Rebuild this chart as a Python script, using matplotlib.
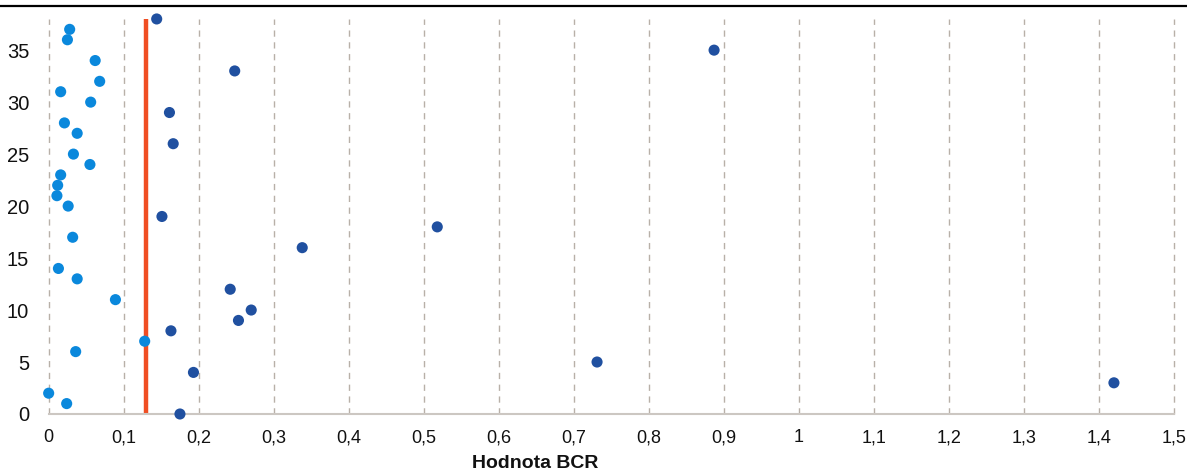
import matplotlib.pyplot as plt
from matplotlib.lines import Line2D
from matplotlib.ticker import FuncFormatter

plt.rcParams['font.family'] = ['Liberation Sans', 'DejaVu Sans']

# project index (y) and its BCR value (x)
project_ids = [0, 1, 2, 3, 4, 5, 6, 7, 8, 9, 10, 11, 12, 13, 14, 16, 17, 18, 19,
               20, 21, 22, 23, 24, 25, 26, 27, 28, 29, 30, 31, 32, 33, 34, 35, 36, 37, 38]
bcr_values = [0.175, 0.024, 0.0, 1.42, 0.193, 0.731, 0.036, 0.128, 0.163, 0.253,
              0.270, 0.089, 0.242, 0.038, 0.013, 0.338, 0.032, 0.518, 0.151,
              0.026, 0.011, 0.012, 0.016, 0.055, 0.033, 0.166, 0.038, 0.021, 0.161,
              0.056, 0.016, 0.068, 0.248, 0.062, 0.887, 0.025, 0.028, 0.144]
threshold = 0.13

x_ticks = [i / 10 for i in range(16)]
y_ticks = [0, 5, 10, 15, 20, 25, 30, 35]

light_blue = '#0A88DC'
dark_blue = '#2050A0'
colors = [light_blue if v < threshold else dark_blue for v in bcr_values]

fig = plt.figure(figsize=(11.87, 4.74), dpi=100)
ax = fig.add_axes([0.041, 0.1266, 0.948, 0.8334])

ax.plot([threshold, threshold], [0, 38], color='#F04E23', lw=3.2, zorder=2,
        solid_capstyle='butt', clip_on=False)
ax.scatter(bcr_values, project_ids, s=64, c=colors, linewidths=0, zorder=3, clip_on=False)

ax.set_xlim(0, 1.5)
ax.set_ylim(0, 38)
ax.set_xticks(x_ticks)
ax.set_yticks(y_ticks)
ax.xaxis.set_major_formatter(FuncFormatter(lambda v, p: ('%g' % round(v, 1)).replace('.', ',')))

for x in x_ticks:
    ax.plot([x, x], [0, 38], color='#B8B0A8', lw=1.0, ls=(0, (4.5, 4)), zorder=1, clip_on=False)

for s in ['top', 'right', 'left']:
    ax.spines[s].set_visible(False)
ax.spines['bottom'].set_color('#CCC7C2')
ax.spines['bottom'].set_linewidth(1.5)

ax.tick_params(axis='x', length=0, pad=11, labelsize=13, colors='#111111')
ax.tick_params(axis='y', length=0, pad=14, labelsize=14.5, colors='#111111')

ax.set_xlabel('Hodnota BCR', fontsize=14, fontweight='bold', color='#111111')
ax.xaxis.set_label_coords(0.432, -0.105)

fig.add_artist(Line2D([0, 1], [1 - 6 / 474, 1 - 6 / 474], color='black', lw=1.6,
                      transform=fig.transFigure))

fig.savefig('out.png', dpi=100)
